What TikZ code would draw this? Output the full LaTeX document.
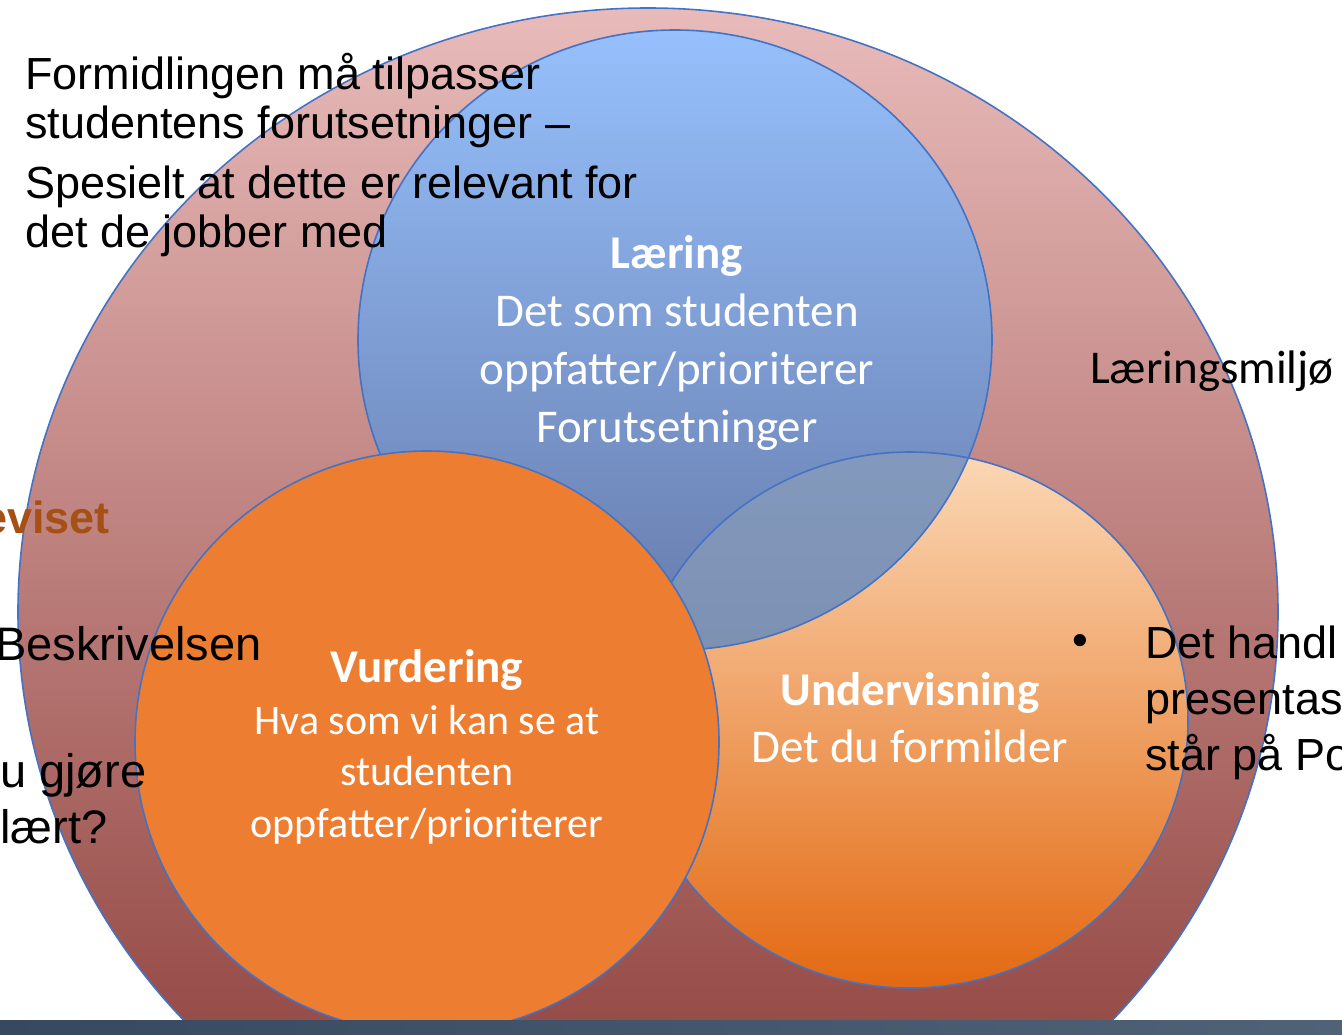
\documentclass[tikz,border=0pt]{standalone}
\usepackage{fontspec}
\setmainfont{Liberation Sans}
\newfontfamily\calibri{Carlito}
\usepackage{xcolor}
\definecolor{RingTop}{RGB}{232,187,186}
\definecolor{RingMid}{RGB}{203,146,144}
\definecolor{RingBottom}{RGB}{135,55,50}
\definecolor{BlueTop}{RGB}{150,192,252}
\definecolor{BlueMid}{RGB}{122,152,212}
\definecolor{BlueBottom}{RGB}{102,122,170}
\definecolor{PeachTop}{RGB}{251,216,182}
\definecolor{PeachMid}{RGB}{243,180,140}
\definecolor{PeachBottom}{RGB}{227,105,18}
\definecolor{LensTint}{RGB}{140,160,185}
\definecolor{VOrange}{RGB}{237,125,49}
\definecolor{EdgeBlue}{RGB}{68,114,196}
\definecolor{BrownText}{RGB}{165,80,20}
\definecolor{BarLeft}{RGB}{55,73,95}
\definecolor{BarRight}{RGB}{80,98,118}

\begin{document}
\begin{tikzpicture}[x=1pt,y=-1pt,
    rim/.style={draw=EdgeBlue,line width=1.6pt},
    slide/.style={font=\fontsize{45}{49}\selectfont,anchor=base west,align=left,inner sep=0pt},
    inside/.style={font=\calibri\fontsize{47}{58}\selectfont,text=white,align=center,anchor=base,inner sep=0pt}]
    \useasboundingbox (0,0) rectangle (1342,1034);
    \clip (0,0) rectangle (1342,1034);

    % the rings
    \shade[top color=RingTop,middle color=RingMid,bottom color=RingBottom] (648,612) ellipse [x radius=630,y radius=604];
    \draw[rim] (648,612) ellipse [x radius=630,y radius=604];

    \shade[top color=PeachTop,middle color=PeachMid,bottom color=PeachBottom] (910,720) ellipse [x radius=278,y radius=268];
    \draw[rim] (910,720) ellipse [x radius=278,y radius=268];

    \shade[top color=BlueTop,middle color=BlueMid,bottom color=BlueBottom] (675,340) ellipse [x radius=317,y radius=310];
    \begin{scope}
        \clip (675,340) ellipse [x radius=317,y radius=310];
        \fill[LensTint,opacity=0.6] (910,720) ellipse [x radius=278,y radius=268];
        \draw[rim] (910,720) ellipse [x radius=278,y radius=268];
    \end{scope}
    \draw[rim] (675,340) ellipse [x radius=317,y radius=310];

    \fill[VOrange] (427,742) ellipse [x radius=292,y radius=291];
    \draw[rim] (427,742) ellipse [x radius=292,y radius=291];

    \shade[left color=BarLeft,right color=BarRight] (0,1020) rectangle (1342,1034);

    % texts in the rings (anchored at the last line)
    \node[inside] (laering) at (677,442) {\textbf{Læring}\\Det som studenten\\oppfatter/prioriterer\\Forutsetninger};
    \node[inside,font=\calibri\fontsize{42}{51.5}\selectfont] (vurdering) at (427,837) {{\fontsize{47}{51.5}\selectfont\textbf{Vurdering}}\\Hva som vi kan se at\\studenten\\oppfatter/prioriterer};
    \node[inside,font=\calibri\fontsize{47}{57}\selectfont] (undervisning) at (910,762) {\textbf{Undervisning}\\Det du formilder};
    \node[anchor=base west,inner sep=0pt,font=\calibri\fontsize{47}{48}\selectfont] (miljo) at (1090,383) {Læringsmiljø};

    % texts round about
    \node[slide] (formidling) at (25,138) {Formidlingen må tilpasser\\studentens forutsetninger –};
    \node[slide] (spesielt) at (25,247) {Spesielt at dette er relevant for\\det de jobber med};
    \node[slide,anchor=base east,font=\bfseries\fontsize{45}{49}\selectfont,text=BrownText] (beviset) at (110,533) {eviset};
    \node[slide,font=\fontsize{47}{49}\selectfont] (beskrivelse) at (-5,660) {Beskrivelsen};
    \node[slide,font=\fontsize{47}{56}\selectfont] (gjore) at (0,843) {u gjøre\\ lært?};
    \node[slide,anchor=center] (bullet) at (1080,645) {•};
    \node[slide,font=\fontsize{45}{56}\selectfont] (handler) at (1145,770) {Det handl\\presentas\\står på Po};
\end{tikzpicture}
\end{document}
